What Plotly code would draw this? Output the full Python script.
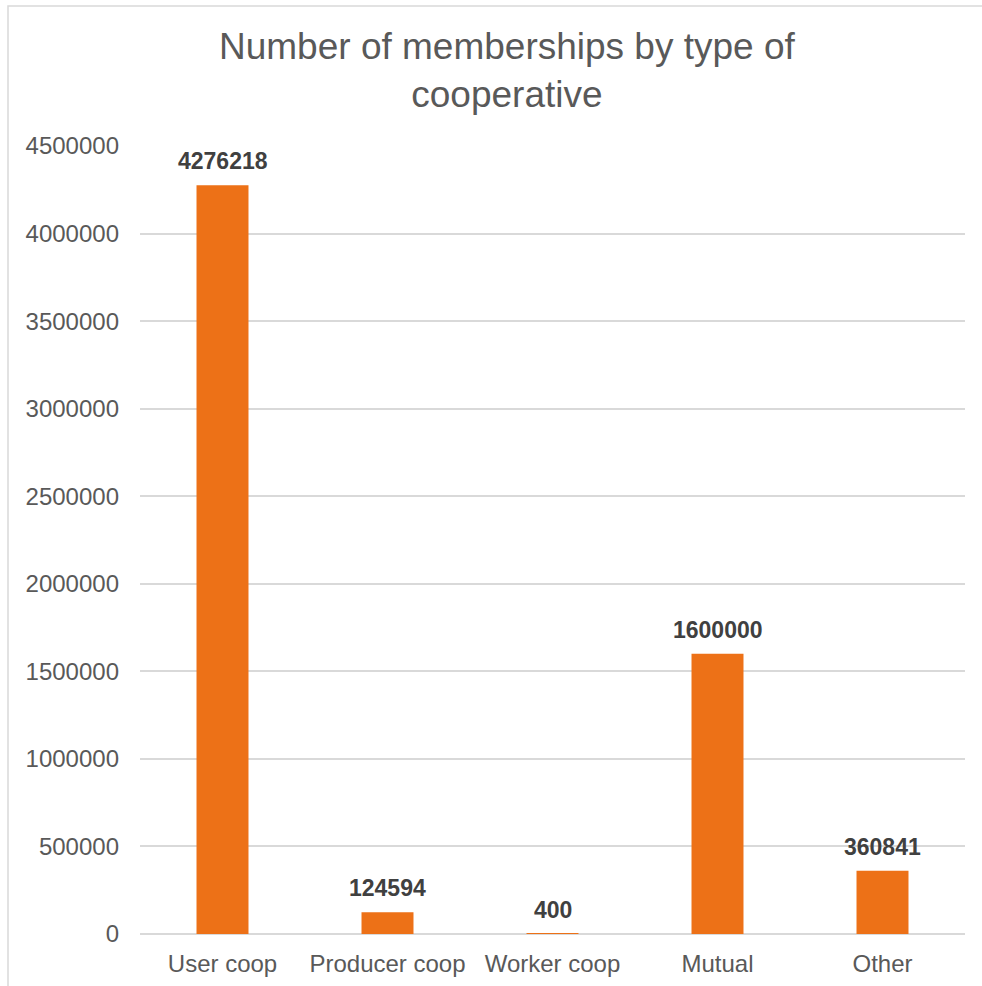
import plotly.graph_objects as go

# Membership counts per cooperative type
categories = ["User coop", "Producer coop", "Worker coop", "Mutual", "Other"]
memberships = [4276218, 124594, 400, 1600000, 360841]
y_ticks = [0, 500000, 1000000, 1500000, 2000000, 2500000, 3000000, 3500000, 4000000, 4500000]

W, H = 982, 986
L, R, T, B = 140, 17, 146, 52
pw, ph = W - L - R, H - T - B

def px_x(x):
    return (x - L) / pw

def px_y(y):
    return (H - B - y) / ph

FONT = "Liberation Sans, Arial, sans-serif"

fig = go.Figure(
    go.Bar(
        x=categories,
        y=memberships,
        marker=dict(color="#ED7117", line=dict(width=0)),
        width=0.315,
        hoverinfo="x+y",
    )
)

# value labels above each bar
annotations = [
    dict(
        x=c,
        y=v,
        xref="x",
        yref="y",
        text=f"<b>{v}</b>",
        showarrow=False,
        yanchor="middle",
        yshift=24,
        font=dict(family=FONT, size=23, color="#404040"),
    )
    for c, v in zip(categories, memberships)
]

# chart title
annotations.append(
    dict(
        x=px_x(507),
        y=px_y(70),
        xref="paper",
        yref="paper",
        text="Number of memberships by type of<br>cooperative",
        showarrow=False,
        xanchor="center",
        yanchor="middle",
        font=dict(family=FONT, size=37, color="#595959"),
    )
)

fig.update_layout(
    width=W,
    height=H,
    margin=dict(l=L, r=R, t=T, b=B),
    paper_bgcolor="white",
    plot_bgcolor="white",
    showlegend=False,
    annotations=annotations,
    xaxis=dict(
        showgrid=False,
        showline=False,
        ticks="",
        automargin=False,
        tickfont=dict(family=FONT, size=24, color="#595959"),
        ticklabelstandoff=13,
    ),
    yaxis=dict(
        range=[0, 4500000],
        tickvals=y_ticks,
        ticktext=[str(v) for v in y_ticks],
        showgrid=True,
        gridcolor="#d9d9d9",
        gridwidth=1.5,
        zeroline=True,
        zerolinecolor="#d9d9d9",
        zerolinewidth=1.5,
        showline=False,
        ticks="",
        automargin=False,
        tickfont=dict(family=FONT, size=24, color="#595959"),
        ticklabelstandoff=20,
    ),
    shapes=[
        dict(
            type="rect",
            xref="paper",
            yref="paper",
            x0=px_x(8),
            x1=px_x(990),
            y0=px_y(994),
            y1=px_y(6),
            line=dict(color="#d9d9d9", width=1.5),
            fillcolor="rgba(0,0,0,0)",
            layer="below",
        )
    ],
)

fig.write_html("out.html")
